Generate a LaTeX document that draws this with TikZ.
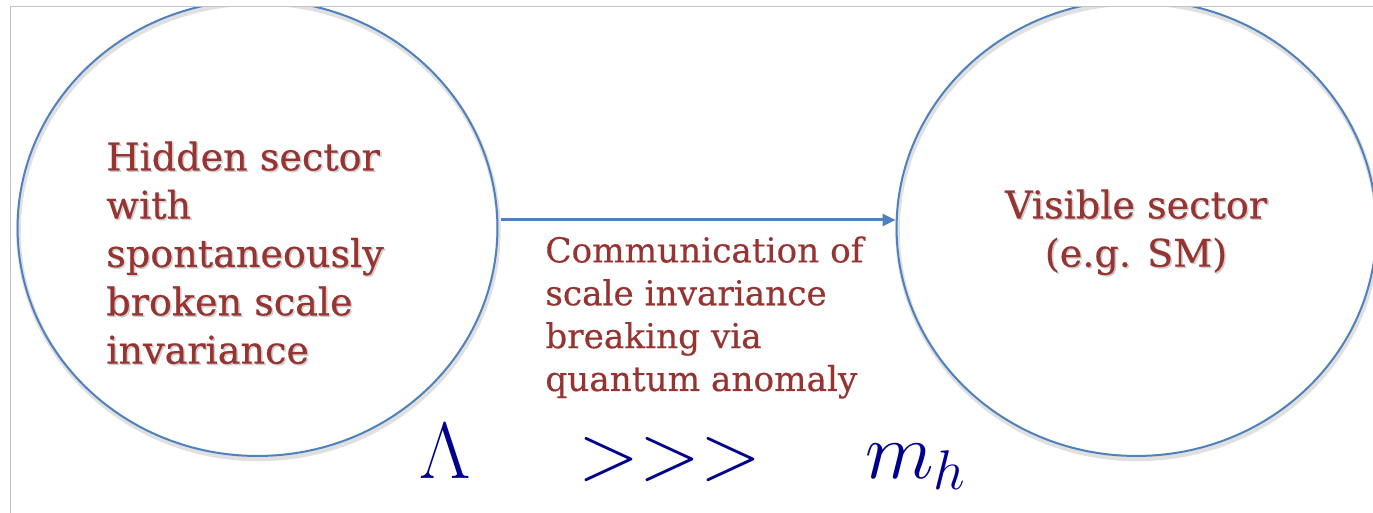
\RequirePackage{fix-cm}
\documentclass[tikz,border=0pt]{standalone}
\usepackage{fontspec}
\newfontfamily\bkfont[FakeBold=0.4]{DejaVu Serif}
\usetikzlibrary{shapes.geometric,arrows.meta}
\definecolor{txtred}{RGB}{150,52,50}
\definecolor{circblue}{RGB}{79,129,189}
\definecolor{mathblue}{RGB}{0,0,140}
\definecolor{framegray}{RGB}{195,195,195}
\tikzset{
  sector/.style={ellipse, draw=circblue, line width=0.04cm, minimum width=9.6cm, minimum height=9.12cm, inner sep=0pt},
  sectorshadow/.style={ellipse, draw=black!12, line width=0.09cm, minimum width=9.6cm, minimum height=9.12cm, inner sep=0pt},
  bigtxt/.style={text=txtred, font=\bkfont\fontsize{21.7}{27.5}\selectfont, inner sep=0pt},
  midtxt/.style={text=txtred, font=\bkfont\fontsize{19.5}{24.4}\selectfont, inner sep=0pt, align=left},
  txtshadow/.style={text=black!30, opacity=0.6},
  mathtxt/.style={text=mathblue, font=\fontsize{45.5}{50}\selectfont, inner sep=0pt},
  link/.style={draw=circblue, line width=0.06cm, -{Triangle[length=0.26cm,width=0.24cm]}}
}
\begin{document}
\begin{tikzpicture}[x=0.02cm,y=-0.02cm]
\useasboundingbox (0,0) rectangle (1373,513);
\fill[white] (0,0) rectangle (1373,513);
\begin{scope}
  \clip (10,7) rectangle (1373,513);
  \node[sectorshadow] (Ls) at (258.5,231) {};
  \node[sectorshadow] (Rs) at (1137.5,231) {};
  \node[sector] (L) at (257.5,228) {};
  \node[sector] (R) at (1136.5,228) {};
\end{scope}
\draw[framegray, line width=0.02cm] (1373,7) -- (10,7) -- (10,513);
% hidden sector text
\node[bigtxt, txtshadow, align=left, anchor=north west] (hts) at (107.5,142.5)
  {Hidden sector\\with\\spontaneously\\broken scale\\invariance};
\node[bigtxt, align=left, anchor=north west] (ht) at (106,141)
  {Hidden sector\\with\\spontaneously\\broken scale\\invariance};
% visible sector text
\node[bigtxt, txtshadow, align=center, anchor=north] (vts) at (1137.5,190.5)
  {Visible sector\\(e.g. SM)};
\node[bigtxt, align=center, anchor=north] (vt) at (1136,189)
  {Visible sector\\(e.g. SM)};
% arrow
\draw[link] ([shift={(3,-8)}]L.east) -- ([shift={(0,-8)}]R.west);
% middle text
\node[midtxt, anchor=north west] (mt) at (545,236)
  {Communication of\\scale invariance\\breaking via\\quantum anomaly};
% math
\node[mathtxt, anchor=base] (lam) at (445,478) {$\Lambda$};
\node[mathtxt, anchor=base] (gg) at (670,479) {$>>>$};
\node[mathtxt, anchor=base west] (mh) at (865,478) {$m_h$};
\end{tikzpicture}
\end{document}
